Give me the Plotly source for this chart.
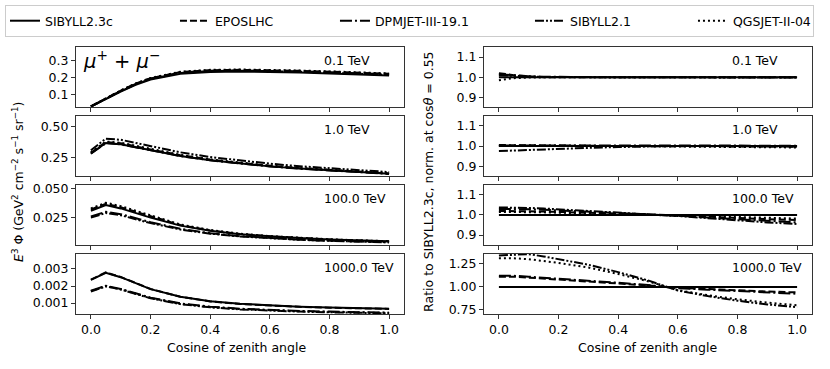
import plotly.graph_objects as go
from plotly.subplots import make_subplots

# cosine of zenith angle grid
cos_theta = [0.0, 0.05, 0.1, 0.15, 0.2, 0.3, 0.4, 0.5, 0.6, 0.7, 0.8, 0.9, 1.0]

models = ['SIBYLL2.3c', 'EPOSLHC', 'DPMJET-III-19.1', 'SIBYLL2.1', 'QGSJET-II-04']
energies = ['0.1 TeV', '1.0 TeV', '100.0 TeV', '1000.0 TeV']

# E^3 * flux, one list per model (order as in `models`)
flux_0p1 = [
    [0.030, 0.075, 0.118, 0.157, 0.188, 0.222, 0.233, 0.235, 0.233, 0.229, 0.224, 0.218, 0.212],
    [0.031, 0.078, 0.123, 0.164, 0.196, 0.232, 0.243, 0.245, 0.243, 0.239, 0.234, 0.228, 0.222],
    [0.031, 0.077, 0.122, 0.162, 0.194, 0.229, 0.240, 0.242, 0.240, 0.236, 0.231, 0.225, 0.219],
    [0.030, 0.076, 0.120, 0.160, 0.192, 0.226, 0.238, 0.240, 0.238, 0.234, 0.228, 0.223, 0.216],
    [0.030, 0.078, 0.124, 0.165, 0.197, 0.234, 0.245, 0.247, 0.245, 0.241, 0.236, 0.230, 0.224],
]
flux_1 = [
    [0.285, 0.370, 0.360, 0.335, 0.310, 0.265, 0.230, 0.203, 0.180, 0.162, 0.147, 0.133, 0.120],
    [0.290, 0.378, 0.368, 0.342, 0.317, 0.271, 0.235, 0.207, 0.184, 0.165, 0.150, 0.136, 0.123],
    [0.283, 0.368, 0.358, 0.334, 0.309, 0.264, 0.229, 0.202, 0.179, 0.161, 0.146, 0.132, 0.119],
    [0.311, 0.405, 0.396, 0.369, 0.343, 0.294, 0.256, 0.227, 0.202, 0.181, 0.164, 0.149, 0.134],
    [0.295, 0.382, 0.372, 0.346, 0.320, 0.274, 0.237, 0.209, 0.186, 0.167, 0.152, 0.137, 0.124],
]
flux_100 = [
    [0.031, 0.036, 0.033, 0.029, 0.025, 0.018, 0.0135, 0.0105, 0.0085, 0.0071, 0.0060, 0.0051, 0.0044],
    [0.032, 0.037, 0.034, 0.030, 0.026, 0.0185, 0.0138, 0.0107, 0.0086, 0.0071, 0.0060, 0.0050, 0.0043],
    [0.026, 0.030, 0.028, 0.0245, 0.021, 0.0152, 0.0114, 0.0088, 0.0070, 0.0057, 0.0048, 0.0041, 0.0035],
    [0.025, 0.029, 0.027, 0.0235, 0.0202, 0.0146, 0.0110, 0.0085, 0.0068, 0.0056, 0.0047, 0.0040, 0.0034],
    [0.033, 0.038, 0.035, 0.031, 0.0265, 0.019, 0.0142, 0.011, 0.0088, 0.0073, 0.0061, 0.0052, 0.0044],
]
flux_1000 = [
    [0.00236, 0.00278, 0.00252, 0.00215, 0.00182, 0.00137, 0.00111, 0.00096, 0.00086, 0.00079, 0.00074, 0.00070, 0.00067],
    [0.00238, 0.00280, 0.00253, 0.00216, 0.00183, 0.00137, 0.00110, 0.00095, 0.00085, 0.00078, 0.00073, 0.00069, 0.00066],
    [0.00172, 0.00202, 0.00183, 0.00156, 0.00132, 0.00098, 0.00079, 0.00067, 0.00059, 0.00054, 0.00050, 0.00047, 0.00044],
    [0.00168, 0.00198, 0.00180, 0.00152, 0.00128, 0.00094, 0.00075, 0.00063, 0.00055, 0.00050, 0.00046, 0.00043, 0.00040],
    [0.00170, 0.00200, 0.00181, 0.00154, 0.00130, 0.00096, 0.00077, 0.00065, 0.00057, 0.00052, 0.00048, 0.00045, 0.00042],
]

# ratio to SIBYLL2.3c, normalised at cos(theta) = 0.55
ratio_0p1 = [
    [1.0] * 13,
    [1.02, 1.01, 1.005, 1.0, 1.0, 1.0, 1.0, 1.0, 1.0, 1.0, 1.0, 1.0, 1.0],
    [1.015, 1.008, 1.004, 1.002, 1.001, 1.0, 1.0, 1.0, 1.0, 1.0, 1.0, 1.0, 1.0],
    [1.01, 1.005, 1.003, 1.001, 1.0, 1.0, 1.0, 1.0, 1.0, 1.0, 1.0, 0.999, 0.998],
    [0.985, 0.995, 0.998, 1.0, 1.0, 1.0, 1.0, 1.0, 1.0, 1.0, 1.0, 1.0, 1.0],
]
ratio_1 = [
    [1.0] * 13,
    [1.005, 1.004, 1.003, 1.002, 1.001, 1.0, 1.0, 1.0, 1.0, 1.0, 0.999, 0.998, 0.997],
    [1.003, 1.003, 1.002, 1.002, 1.001, 1.001, 1.0, 1.0, 1.0, 1.0, 1.001, 1.001, 1.002],
    [0.975, 0.978, 0.981, 0.984, 0.987, 0.991, 0.995, 0.998, 1.0, 1.0, 0.999, 0.998, 0.997],
    [1.002, 1.003, 1.003, 1.002, 1.002, 1.001, 1.001, 1.0, 1.0, 0.999, 0.997, 0.995, 0.993],
]
ratio_100 = [
    [1.0] * 13,
    [1.02, 1.02, 1.019, 1.017, 1.015, 1.012, 1.008, 1.003, 0.997, 0.99, 0.984, 0.979, 0.975],
    [1.03, 1.03, 1.028, 1.026, 1.023, 1.017, 1.011, 1.004, 0.996, 0.987, 0.978, 0.970, 0.963],
    [1.037, 1.037, 1.035, 1.032, 1.028, 1.021, 1.013, 1.005, 0.995, 0.984, 0.973, 0.963, 0.955],
    [1.015, 1.015, 1.014, 1.013, 1.011, 1.008, 1.005, 1.002, 0.998, 0.994, 0.99, 0.986, 0.982],
]
ratio_1000 = [
    [1.0] * 13,
    [1.11, 1.11, 1.10, 1.09, 1.08, 1.06, 1.04, 1.015, 0.99, 0.975, 0.96, 0.95, 0.94],
    [1.12, 1.12, 1.11, 1.10, 1.09, 1.07, 1.045, 1.02, 0.985, 0.97, 0.955, 0.94, 0.925],
    [1.34, 1.35, 1.355, 1.33, 1.30, 1.24, 1.16, 1.07, 0.96, 0.90, 0.85, 0.81, 0.78],
    [1.31, 1.31, 1.30, 1.28, 1.26, 1.21, 1.14, 1.06, 0.965, 0.91, 0.865, 0.83, 0.80],
]

flux = [flux_0p1, flux_1, flux_100, flux_1000]
ratio = [ratio_0p1, ratio_1, ratio_100, ratio_1000]

dashes = ['solid', '7px,3px', '12px,3px,2px,3px', '9px,2px,2px,2px,2px,2px', '2px,3px']
legend_widths = [125, 115, 150, 118, 75]

flux_ranges = [[0.025, 0.379], [0.10, 0.59], [0.001, 0.0536], [0.00036, 0.0039]]
flux_ticks = [[0.1, 0.2, 0.3], [0.25, 0.5], [0.025, 0.05], [0.001, 0.002, 0.003]]
flux_ticktext = [['0.1', '0.2', '0.3'], ['0.25', '0.50'], ['0.025', '0.050'], ['0.001', '0.002', '0.003']]
ratio_ranges = [[0.85, 1.15], [0.85, 1.15], [0.85, 1.15], [0.706, 1.36]]
ratio_ticks = [[0.9, 1.0, 1.1], [0.9, 1.0, 1.1], [0.9, 1.0, 1.1], [0.75, 1.0, 1.25]]
ratio_ticktext = [['0.9', '1.0', '1.1'], ['0.9', '1.0', '1.1'], ['0.9', '1.0', '1.1'], ['0.75', '1.00', '1.25']]

FONT = 'DejaVu Sans'
fig = make_subplots(rows=4, cols=2, horizontal_spacing=0.1087, vertical_spacing=0.032)

for r in range(4):
    for m, name in enumerate(models):
        line = dict(color='black', width=2, dash=dashes[m])
        fig.add_trace(go.Scatter(x=cos_theta, y=flux[r][m], mode='lines', line=line, name=name,
                                 legendgroup=name, showlegend=(r == 0), legendwidth=legend_widths[m]),
                      row=r + 1, col=1)
        fig.add_trace(go.Scatter(x=cos_theta, y=ratio[r][m], mode='lines', line=line, name=name,
                                 legendgroup=name, showlegend=False), row=r + 1, col=2)

axis_style = dict(showline=True, mirror=True, linecolor='#333', linewidth=1, ticks='outside',
                  ticklen=4, tickwidth=1, tickcolor='#333', showgrid=False, zeroline=False,
                  tickfont=dict(family=FONT, size=12.5, color='black'))

for r in range(4):
    for c in (1, 2):
        fig.update_xaxes(axis_style, range=[-0.05, 1.05], tickvals=[0, 0.2, 0.4, 0.6, 0.8, 1.0],
                         ticktext=['0.0', '0.2', '0.4', '0.6', '0.8', '1.0'],
                         showticklabels=(r == 3), row=r + 1, col=c)
    fig.update_yaxes(axis_style, range=flux_ranges[r], tickvals=flux_ticks[r],
                     ticktext=flux_ticktext[r], row=r + 1, col=1)
    fig.update_yaxes(axis_style, range=ratio_ranges[r], tickvals=ratio_ticks[r],
                     ticktext=ratio_ticktext[r], row=r + 1, col=2)

annotations = []
for r in range(4):
    for c in (1, 2):
        idx = r * 2 + c
        xr = 'x domain' if idx == 1 else 'x%d domain' % idx
        yr = 'y domain' if idx == 1 else 'y%d domain' % idx
        annotations.append(dict(text=energies[r], xref=xr, yref=yr, x=0.75, y=0.775,
                                xanchor='left', yanchor='middle', showarrow=False,
                                font=dict(family=FONT, size=12.5, color='black')))

annotations.append(dict(text='<i>μ</i><sup>+</sup> + <i>μ</i><sup>−</sup>', xref='x domain', yref='y domain',
                        x=0.015, y=0.78, xanchor='left', yanchor='middle', showarrow=False,
                        font=dict(family=FONT, size=19.5, color='black')))
annotations.append(dict(text='<i>E</i><sup>3</sup> Φ (GeV<sup>2</sup> cm<sup>−2</sup> s<sup>−1</sup> sr<sup>−1</sup>)',
                        xref='paper', yref='paper', x=-0.079, y=0.494, textangle=-90,
                        xanchor='center', yanchor='middle', showarrow=False,
                        font=dict(family=FONT, size=12.5, color='black')))
annotations.append(dict(text='Ratio to SIBYLL2.3c, norm. at cos<i>θ</i> = 0.55',
                        xref='paper', yref='paper', x=0.478, y=0.494, textangle=-90,
                        xanchor='center', yanchor='middle', showarrow=False,
                        font=dict(family=FONT, size=12.5, color='black')))
for xc in (0.218, 0.777):
    annotations.append(dict(text='Cosine of zenith angle', xref='paper', yref='paper', x=xc, y=-0.124,
                            xanchor='center', yanchor='middle', showarrow=False,
                            font=dict(family=FONT, size=12.5, color='black')))

fig.update_layout(
    width=830, height=369,
    margin=dict(l=76, r=18, t=47, b=55, autoexpand=False),
    plot_bgcolor='white', paper_bgcolor='white',
    font=dict(family=FONT, size=12.5, color='black'),
    annotations=annotations,
    legend=dict(orientation='h', x=-0.0965, y=1.157, xanchor='left', yanchor='top',
                bordercolor='#cccccc', borderwidth=1,
                font=dict(family=FONT, size=12.5, color='black'), itemwidth=30),
)

# drop the browser's default 8px body margin so the figure sits at the page origin
fig.write_html("out.html", config={'displayModeBar': False},
               post_script="document.body.style.margin='0';")
